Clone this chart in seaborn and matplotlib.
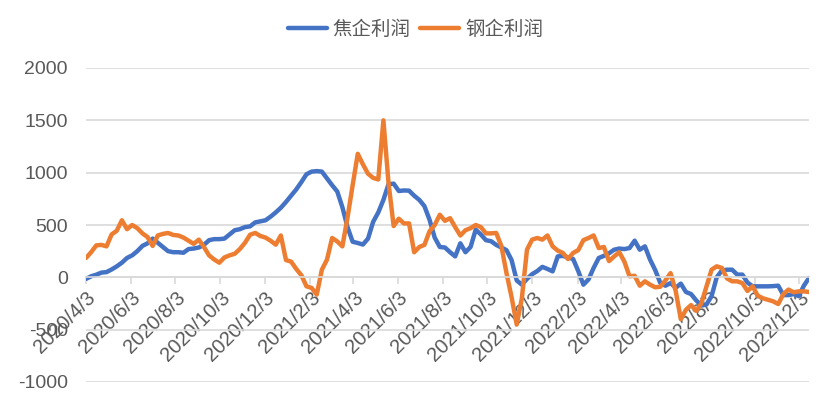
import pandas as pd
import seaborn as sns
import matplotlib.pyplot as plt

# weekly data, Friday 2020/4/3 .. 2022/12/16
dates = pd.date_range('2020-04-03', periods=142, freq='7D')

coke_profit = [
    -15, 10, 25, 45, 50, 75, 105, 140, 185, 210,
    250, 300, 325, 370, 330, 290, 250, 240, 240, 235,
    270, 275, 285, 310, 355, 365, 365, 370, 410, 450,
    460, 480, 487, 525, 535, 545, 580, 620, 665, 720,
    780, 840, 910, 985, 1010, 1015, 1010, 945, 880, 820,
    670, 480, 340, 328, 313, 370, 530, 620, 740, 890,
    895, 825, 830, 828, 780, 740, 680, 550, 380, 290,
    285, 240, 200, 325, 240, 290, 455, 410, 355, 345,
    310, 285, 260, 165, -30, -70, -15, 30, 60, 100,
    80, 57, 200, 205, 190, 175, 60, -70, -20, 90,
    185, 205, 230, 264, 275, 270, 280, 350, 264, 296,
    170, 70, -53, -80, -55, -100, -60, -140, -160, -220,
    -270, -260, -180, 0, 65, 73, 73, 26, 26, -50,
    -86, -86, -86, -86, -84, -80, -170, -170, -160, -180,
    -80, -6,
]

steel_profit = [
    185, 240, 305, 310, 296, 410, 445, 545, 460, 500,
    470, 420, 385, 300, 400, 415, 424, 405, 400, 380,
    350, 320, 360, 290, 210, 170, 140, 190, 210, 225,
    270, 330, 407, 424, 395, 380, 350, 312, 400, 165,
    150, 80, 20, -86, -101, -165, 73, 169, 376, 343,
    296, 570, 880, 1180, 1080, 990, 950, 935, 1500, 900,
    490, 560, 515, 515, 240, 290, 310, 440, 500, 598,
    540, 565, 480, 400, 450, 470, 500, 480, 420, 420,
    424, 300, 42, -190, -451, -200, 264, 360, 376, 360,
    400, 296, 255, 233, 175, 233, 260, 355, 376, 400,
    280, 290, 155, 200, 240, 150, 10, 15, -80, -38,
    -70, -95, -90, -30, 40, -130, -400, -310, -265, -320,
    -250, -90, 73, 105, 90, -10, -38, -38, -55, -130,
    -86, -175, -200, -215, -229, -255, -160, -117, -143, -134,
    -134, -140,
]

series_names = ['焦企利润', '钢企利润']
tick_dates = pd.date_range('2020-04-03', '2022-12-03', freq=pd.DateOffset(months=2))
y_ticks = [-1000, -500, 0, 500, 1000, 1500, 2000]

df = pd.DataFrame({
    'date': list(dates) * 2,
    'value': coke_profit + steel_profit,
    'series': [series_names[0]] * len(dates) + [series_names[1]] * len(dates),
})

sns.set_style('white')
plt.rcParams['font.family'] = ['Liberation Sans', 'Noto Sans CJK SC', 'DejaVu Sans']

fig = plt.figure(figsize=(8.31, 4.05), dpi=100)
ax = fig.add_axes([86 / 831, 1 - 382 / 405, (809 - 86) / 831, (382 - 68) / 405])

sns.lineplot(data=df, x='date', y='value', hue='series',
             palette=['#4472C4', '#ED7D31'], linewidth=3.2, ax=ax, legend=False)

ax.set_xlim(dates[0], dates[-1])
ax.set_ylim(-1000, 2000)
ax.set_yticks(y_ticks)
ax.set_yticklabels([str(v) for v in y_ticks])
ax.grid(axis='y', color='#d9d9d9', linewidth=1.2)
ax.set_axisbelow(True)

for s in ['top', 'right', 'left']:
    ax.spines[s].set_visible(False)
ax.spines['bottom'].set_position(('data', 0))
ax.spines['bottom'].set_color('#d9d9d9')
ax.spines['bottom'].set_linewidth(1.2)

ax.set_xticks(tick_dates)
ax.set_xticklabels([f'{d.year}/{d.month}/{d.day}' for d in tick_dates],
                   rotation=45, ha='right', rotation_mode='anchor')
ax.tick_params(axis='x', length=5, color='#d9d9d9', width=1.2, pad=3,
               labelsize=14.5, labelcolor='#595959', bottom=True)
ax.tick_params(axis='y', length=0, pad=13, labelsize=14, labelcolor='#595959')
ax.set_xlabel('')
ax.set_ylabel('')

handles = [plt.Line2D([], [], color='#4472C4', linewidth=3.2),
           plt.Line2D([], [], color='#ED7D31', linewidth=3.2)]
leg = fig.legend(handles, series_names, loc='center', bbox_to_anchor=(0.5, 1 - 30 / 405),
                 ncol=2, frameon=False, fontsize=14, handlelength=2.0,
                 handletextpad=0.3, columnspacing=0.5)
for t in leg.get_texts():
    t.set_color('#595959')

fig.savefig('out.png', dpi=100)
